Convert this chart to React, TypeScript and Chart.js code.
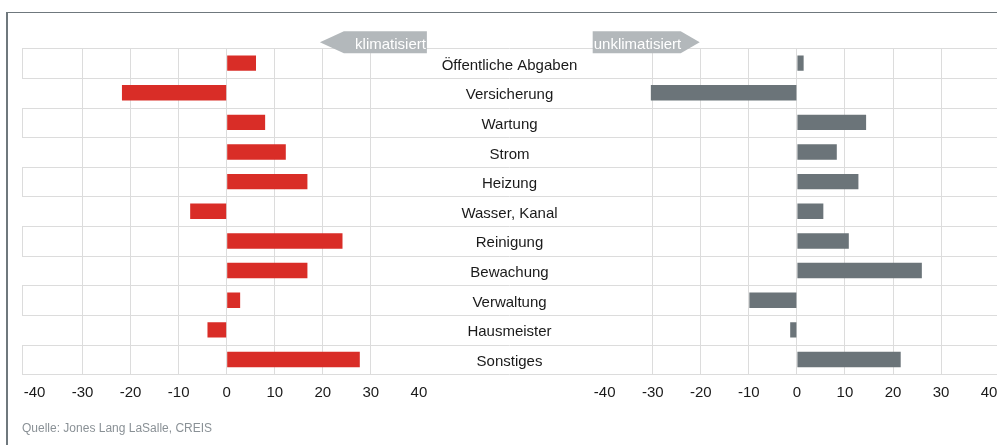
import React, { useEffect, useRef } from 'react';
import { Chart, registerables } from 'chart.js';

Chart.register(...registerables);

// ---------- data ----------
const categories = [
  'Öffentliche Abgaben',
  'Versicherung',
  'Wartung',
  'Strom',
  'Heizung',
  'Wasser, Kanal',
  'Reinigung',
  'Bewachung',
  'Verwaltung',
  'Hausmeister',
  'Sonstiges',
];
const klimatisiert = [6.1, -21.8, 8.0, 12.3, 16.8, -7.6, 24.1, 16.8, 2.8, -4.0, 27.7];
const unklimatisiert = [1.4, -30.4, 14.4, 8.3, 12.8, 5.5, 10.8, 26.0, -9.9, -1.4, 21.6];
const tickValues = [-40, -30, -20, -10, 0, 10, 20, 30, 40];
const leftLabel = 'klimatisiert';
const rightLabel = 'unklimatisiert';
const sourceText = 'Quelle: Jones Lang LaSalle, CREIS';

// ---------- styles ----------
const FONT = '"Liberation Sans", Arial, Helvetica, sans-serif';
const RED = '#d92d27';
const GRAY = '#6b7479';
const BANNER = '#b3b8bb';
const GRID = '#dcdcdc';
const TEXT = '#1a1a1a';
const BORDER = '#6f787d';

export default function App() {
  const ref = useRef<HTMLCanvasElement>(null);

  useEffect(() => {
    const canvas = ref.current;
    if (!canvas) return;

    const decor = {
      id: 'decor',
      beforeDatasetsDraw(chart: any) {
        const { ctx, chartArea: ca, scales } = chart;
        const y = scales.y;
        const half = (y.getPixelForValue(1) - y.getPixelForValue(0)) / 2;
        ctx.save();
        ctx.strokeStyle = GRID;
        ctx.lineWidth = 1;
        ctx.beginPath();
        for (let i = 0; i < categories.length; i++) {
          const c = y.getPixelForValue(i);
          const top = Math.round(c - half) + 0.5;
          const bot = Math.round(c + half) + 0.5;
          ctx.moveTo(ca.left, top);
          ctx.lineTo(ca.right, top);
          if (i === categories.length - 1) {
            ctx.moveTo(ca.left, bot);
            ctx.lineTo(ca.right, bot);
          }
          if (i % 2 === 0) {
            ctx.moveTo(Math.round(ca.left) + 0.5, top);
            ctx.lineTo(Math.round(ca.left) + 0.5, bot);
          }
        }
        ctx.stroke();
        ctx.restore();
      },
      afterDraw(chart: any) {
        const { ctx, chartArea: ca, scales } = chart;
        const y = scales.y;
        const xl = scales.x;
        const xr = scales.x2;
        ctx.save();

        // frame
        ctx.fillStyle = BORDER;
        ctx.fillRect(6, 12, 2, 445 - 12);
        ctx.fillRect(6, 12, 997 - 6, 1);

        // category labels in the middle column
        ctx.fillStyle = TEXT;
        ctx.font = `15px ${FONT}`;
        ctx.textAlign = 'center';
        ctx.textBaseline = 'alphabetic';
        const midX = (ca.left + ca.right) / 2;
        categories.forEach((c, i) => {
          ctx.fillText(c, midX, y.getPixelForValue(i) + 6.5);
        });

        // tick labels for both scales
        [xl, xr].forEach((s: any) => {
          s.ticks.forEach((t: any) => {
            ctx.fillText(String(t.value), s.getPixelForValue(t.value), ca.bottom + 23);
          });
        });

        // banners
        const bTop = ca.top - 17;
        const bBot = ca.top + 5;
        const bMid = (bTop + bBot) / 2;
        ctx.fillStyle = BANNER;
        // left banner (arrow pointing left)
        const lRight = xl.getPixelForValue(40) + 8;
        const lLeft = lRight - 83;
        ctx.beginPath();
        ctx.moveTo(lLeft - 24, bMid);
        ctx.lineTo(lLeft, bTop);
        ctx.lineTo(lRight, bTop);
        ctx.lineTo(lRight, bBot);
        ctx.lineTo(lLeft, bBot);
        ctx.closePath();
        ctx.fill();
        // right banner (arrow pointing right)
        const rLeft = xr.getPixelForValue(-40) - 12;
        const rRight = rLeft + 88;
        ctx.beginPath();
        ctx.moveTo(rLeft, bTop);
        ctx.lineTo(rRight, bTop);
        ctx.lineTo(rRight + 19, bMid);
        ctx.lineTo(rRight, bBot);
        ctx.lineTo(rLeft, bBot);
        ctx.closePath();
        ctx.fill();

        ctx.fillStyle = '#ffffff';
        ctx.font = `15px ${FONT}`;
        ctx.textAlign = 'right';
        ctx.fillText(leftLabel, lRight - 1, bBot - 4.5);
        ctx.textAlign = 'left';
        ctx.fillText(rightLabel, rLeft + 1, bBot - 4.5);

        // source
        ctx.fillStyle = '#8a9196';
        ctx.font = `12px ${FONT}`;
        ctx.textAlign = 'left';
        ctx.fillText(sourceText, ca.left, 432);

        ctx.restore();
      },
    };

    const gridColor = (c: any) =>
      c.tick && Math.abs(c.tick.value) < 40 ? GRID : 'rgba(0,0,0,0)';
    const setTicks = (s: any) => {
      s.ticks = tickValues.map((v) => ({ value: v }));
    };

    const chart = new Chart(canvas, {
      type: 'bar',
      data: {
        labels: categories,
        datasets: [
          {
            label: leftLabel,
            data: klimatisiert,
            xAxisID: 'x',
            backgroundColor: RED,
            barPercentage: 0.52,
            categoryPercentage: 1,
            grouped: false,
          } as any,
          {
            label: rightLabel,
            data: unklimatisiert,
            xAxisID: 'x2',
            backgroundColor: GRAY,
            barPercentage: 0.52,
            categoryPercentage: 1,
            grouped: false,
          } as any,
        ],
      },
      options: {
        indexAxis: 'y',
        animation: false,
        responsive: false,
        devicePixelRatio: 1,
        layout: { padding: { left: 22, right: 0, top: 48.3, bottom: 70.7 } },
        plugins: { legend: { display: false }, tooltip: { enabled: false } },
        scales: {
          x: {
            type: 'linear',
            position: 'bottom',
            min: -42.6,
            max: 160.31,
            afterBuildTicks: setTicks,
            ticks: { display: false },
            grid: { color: gridColor, drawTicks: false, lineWidth: 1 },
            border: { display: false },
          },
          x2: {
            type: 'linear',
            position: 'bottom',
            min: -161.27,
            max: 41.64,
            afterBuildTicks: setTicks,
            ticks: { display: false },
            grid: { color: gridColor, drawTicks: false, lineWidth: 1 },
            border: { display: false },
          },
          y: {
            type: 'category',
            display: false,
            offset: true,
          },
        },
      } as any,
      plugins: [decor],
    });

    return () => chart.destroy();
  }, []);

  return (
    <div
      style={{
        position: 'absolute',
        left: 0,
        top: 0,
        width: 997,
        height: 445,
        background: '#ffffff',
      }}
    >
      <canvas ref={ref} width={997} height={445} style={{ display: 'block' }} />
    </div>
  );
}
